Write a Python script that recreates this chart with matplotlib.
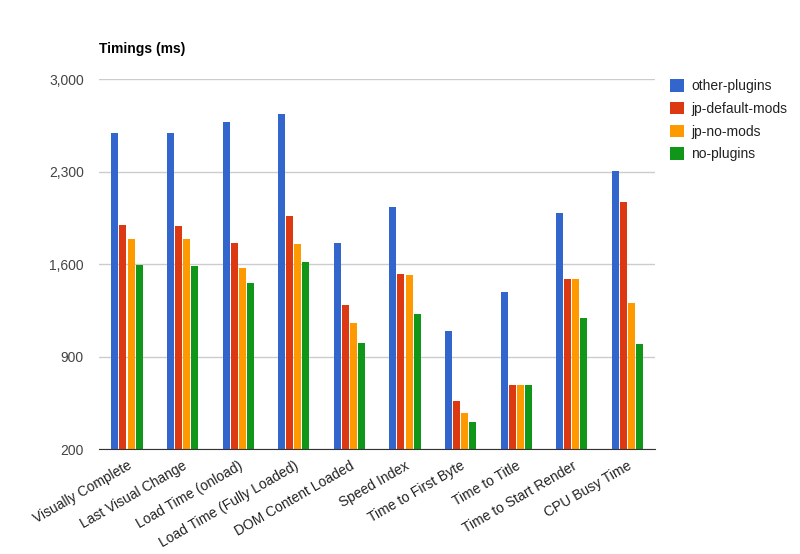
import numpy as np
import matplotlib.pyplot as plt

categories = ["Visually Complete", "Last Visual Change", "Load Time (onload)",
              "Load Time (Fully Loaded)", "DOM Content Loaded", "Speed Index",
              "Time to First Byte", "Time to Title", "Time to Start Render",
              "CPU Busy Time"]
other_plugins = [2594, 2594, 2677, 2738, 1762, 2034, 1097, 1392, 1989, 2307]
jp_default_mods = [1898, 1891, 1762, 1966, 1293, 1528, 567, 688, 1490, 2072]
jp_no_mods = [1792, 1792, 1573, 1755, 1157, 1520, 469, 688, 1490, 1308]
no_plugins = [1596, 1588, 1460, 1619, 1006, 1225, 401, 688, 1195, 998]
series_names = ["other-plugins", "jp-default-mods", "jp-no-mods", "no-plugins"]
colors = ["#3366cc", "#dc3912", "#ff9900", "#109618"]
y_ticks = [200, 900, 1600, 2300, 3000]

plt.rcParams['font.family'] = ['Liberation Sans', 'DejaVu Sans']

fig = plt.figure(figsize=(8, 5.54), dpi=100)
ax = fig.add_axes([0.124, 0.1895, 0.695, 0.6675])

x = np.arange(len(categories))
width = 0.126
step = 0.144
for i, (vals, name, c) in enumerate(zip([other_plugins, jp_default_mods, jp_no_mods, no_plugins],
                                         series_names, colors)):
    ax.bar(x + (i - 1.5) * step, np.array(vals) - 200, width, bottom=200,
           color=c, label=name, zorder=3)

ax.set_xlim(-0.5, len(categories) - 0.5)
ax.set_ylim(200, 3000)
ax.set_yticks(y_ticks)
ax.set_yticklabels([f"{v:,}" for v in y_ticks], fontsize=10, color="#444444")
ax.yaxis.grid(True, color="#cccccc", linewidth=1, zorder=0)
ax.tick_params(axis="y", length=0, pad=11)
ax.tick_params(axis="x", length=0, pad=7)
ax.set_xticks(x)
ax.set_xticklabels(categories, rotation=30, ha="right", rotation_mode="anchor",
                   fontsize=10, color="#222222")
for s in ["top", "right", "left"]:
    ax.spines[s].set_visible(False)
ax.spines["bottom"].set_color("#333333")
ax.spines["bottom"].set_zorder(4)

fig.text(0.124, 0.905, "Timings (ms)", fontsize=10, fontweight="bold", color="#000000")

ax.legend(loc="upper left", bbox_to_anchor=(1.01, 1.026), frameon=False,
          fontsize=10, handlelength=1.0, handleheight=1.0, handletextpad=0.5,
          labelspacing=0.62, labelcolor="#222222", borderaxespad=0.3)

fig.savefig("out.png", dpi=100)
